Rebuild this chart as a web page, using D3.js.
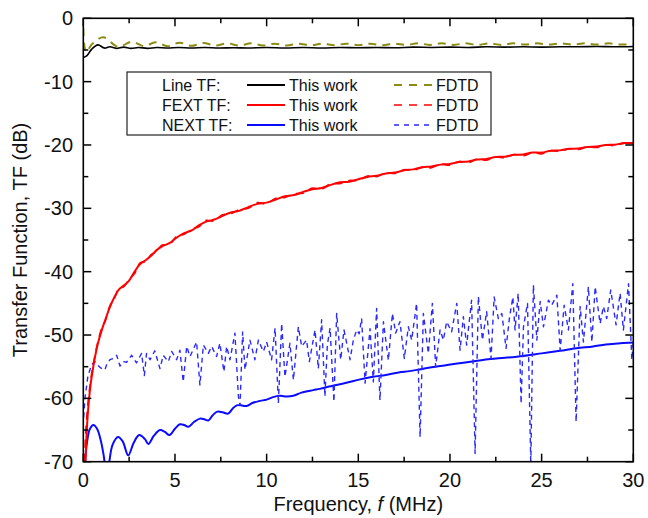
<!DOCTYPE html>
<html>
<head>
<meta charset="utf-8">
<script src="https://cdn.jsdelivr.net/npm/d3@7"></script>
<style>
  html, body { margin: 0; padding: 0; background: #fff; }
  svg { display: block; font-family: "Liberation Sans", Arial, sans-serif; }
</style>
</head>
<body>
<svg id="chart" width="648" height="518"></svg>
<script>
// Transfer functions of the line, far-end (FEXT) and near-end (NEXT) crosstalk,
// each as [frequency in MHz, TF in dB].

const lineWork = [[0,-6.2],[0.2,-5.9],[0.45,-4.9],[0.8,-4.2],[1.15,-4.7],[1.45,-4.5],[1.8,-4.75],[2.2,-4.55],[2.6,-4.75],[3.0,-4.6],[3.5,-4.75],[4.0,-4.6],[4.6,-4.7],[5.2,-4.6],[5.9,-4.7],[6.6,-4.6],[7.4,-4.7],[8.2,-4.65],[9.0,-4.7],[10,-4.6],[11,-4.7],[12,-4.6],[13,-4.7],[14,-4.6],[15,-4.65],[16,-4.6],[17,-4.65],[18,-4.55],[19,-4.6],[20,-4.55],[21,-4.6],[22,-4.5],[23,-4.55],[24,-4.5],[25,-4.55],[26,-4.5],[27,-4.5],[28,-4.45],[29,-4.5],[30,-4.45]];

const lineFdtd = [[0,-1.6],[0.15,-5.3],[0.5,-4.0],[1.1,-3.0],[1.9,-4.5],[2.65,-3.7],[3.3,-4.4],[3.95,-3.8],[4.6,-4.4],[5.25,-3.85],[5.9,-4.35],[6.55,-3.9],[7.2,-4.3],[7.85,-3.95],[8.5,-4.3],[9.15,-3.95],[9.8,-4.3],[10.45,-4.0],[11.1,-4.3],[11.75,-4.0],[12.4,-4.25],[13.05,-4.0],[13.7,-4.25],[14.35,-4.0],[15.0,-4.25],[15.65,-4.0],[16.3,-4.25],[16.95,-4.0],[17.6,-4.2],[18.25,-3.95],[18.9,-4.2],[19.55,-3.95],[20.2,-4.2],[20.85,-3.95],[21.5,-4.2],[22.15,-3.95],[22.8,-4.2],[23.45,-3.95],[24.1,-4.15],[24.75,-3.95],[25.4,-4.15],[26.05,-3.95],[26.7,-4.15],[27.35,-3.95],[28.0,-4.15],[28.65,-3.95],[29.3,-4.15],[30,-4.05]];

const fextWork = [[0.12,-70],[0.2,-64.5],[0.3,-60.5],[0.4,-57.8],[0.5,-55.8],[0.65,-53.3],[0.8,-51.3],[1.0,-49.3],[1.2,-47.6],[1.45,-45.6],[1.7,-44.0],[1.95,-42.8],[2.2,-42.2],[2.5,-41.4],[2.8,-40.0],[3.1,-38.8],[3.4,-38.2],[3.7,-37.5],[4.0,-36.6],[4.3,-36.0],[4.7,-35.5],[5.1,-34.6],[5.5,-33.9],[5.9,-33.5],[6.3,-32.7],[6.7,-32.1],[7.1,-31.8],[7.6,-31.2],[8.0,-30.7],[8.5,-30.4],[9.0,-29.8],[9.5,-29.3],[10.0,-29.1],[10.5,-28.6],[11.0,-28.1],[11.5,-27.9],[12.0,-27.4],[12.5,-27.0],[13.0,-26.8],[13.5,-26.3],[14.0,-25.9],[14.5,-25.8],[15.0,-25.4],[15.5,-25.05],[16.0,-24.85],[16.5,-24.5],[17.0,-24.35],[17.5,-24.0],[18.0,-23.85],[18.5,-23.5],[19.0,-23.4],[19.5,-23.1],[20.0,-23.0],[20.5,-22.7],[21.0,-22.6],[21.5,-22.3],[22.0,-22.2],[22.5,-21.9],[23.0,-21.85],[23.5,-21.55],[24.0,-21.5],[24.5,-21.2],[25.0,-21.2],[25.5,-20.9],[26.0,-20.85],[26.5,-20.6],[27.0,-20.55],[27.5,-20.3],[28.0,-20.25],[28.5,-20.0],[29.0,-19.95],[29.5,-19.7],[30.0,-19.7]];

const fextFdtd = [[0.07,-70],[0.12,-66],[0.2,-62.5],[0.3,-59.5],[0.4,-57.2],[0.5,-55.3],[0.65,-53.0],[0.8,-51.0],[1.0,-49.0],[1.2,-47.8],[1.45,-45.4],[1.7,-44.2],[1.95,-42.6],[2.2,-42.4],[2.5,-41.2],[2.8,-40.3],[3.1,-38.6],[3.4,-38.4],[3.7,-37.3],[4.0,-36.8],[4.3,-35.8],[4.7,-35.7],[5.1,-34.4],[5.5,-34.1],[5.9,-33.3],[6.3,-32.9],[6.7,-31.9],[7.1,-32.0],[7.6,-31.0],[8.0,-30.9],[8.5,-30.2],[9.0,-30.0],[9.5,-29.1],[10.0,-29.3],[10.5,-28.4],[11.0,-28.3],[11.5,-27.7],[12.0,-27.6],[12.5,-26.8],[13.0,-27.0],[13.5,-26.1],[14.0,-26.1],[14.5,-25.6],[15.0,-25.6],[15.5,-24.9],[16.0,-25.0],[16.5,-24.4],[17.0,-24.5],[17.5,-23.9],[18.0,-24.0],[18.5,-23.5],[19.0,-23.6],[19.5,-23.0],[20.0,-23.2],[20.5,-22.6],[21.0,-22.8],[21.5,-22.2],[22.0,-22.4],[22.5,-21.9],[23.0,-22.0],[23.5,-21.5],[24.0,-21.7],[24.5,-21.2],[25.0,-21.4],[25.5,-20.9],[26.0,-21.0],[26.5,-20.6],[27.0,-20.7],[27.5,-20.3],[28.0,-20.4],[28.5,-20.0],[29.0,-20.1],[29.5,-19.7],[30.0,-19.8]];

const nextWork = [[0.1,-70],[0.2,-67],[0.35,-64.9],[0.55,-64.2],[0.75,-64.8],[0.95,-66.6],[1.1,-68.8],[1.3,-72.5],[1.42,-70],[1.6,-67.3],[1.9,-66.1],[2.15,-66.8],[2.45,-69],[2.75,-67],[3.05,-65.8],[3.35,-66.4],[3.55,-67.2],[3.85,-65.9],[4.18,-65.0],[4.45,-65.3],[4.7,-65.8],[5.0,-64.8],[5.27,-64.1],[5.5,-64.2],[5.73,-64.5],[6.05,-63.7],[6.36,-63.2],[6.6,-63.3],[6.82,-63.5],[7.05,-62.7],[7.31,-62.1],[7.6,-62.2],[7.91,-62.4],[8.15,-61.6],[8.37,-61.1],[8.6,-61.1],[8.9,-61.2],[9.25,-60.7],[9.64,-60.4],[10.0,-60.2],[10.35,-59.8],[10.73,-59.6],[11.1,-59.7],[11.45,-59.6],[11.9,-59.1],[12.55,-58.7],[12.9,-58.5],[13.3,-58.2],[13.8,-57.9],[14.4,-57.5],[15.1,-57.0],[15.8,-56.6],[16.5,-56.3],[17.2,-55.9],[17.8,-55.7],[18.4,-55.4],[19.0,-55.1],[19.7,-54.8],[20.4,-54.5],[21.4,-54.1],[22.2,-53.8],[23.0,-53.6],[24.0,-53.3],[25.0,-52.9],[26.0,-52.5],[26.9,-52.1],[27.8,-51.8],[28.5,-51.5],[29.3,-51.3],[30,-51.2]];

const nextFdtd = [[0.02,-63],[0.09,-60],[0.25,-56.5],[0.45,-54.7],[0.64,-54.2],[0.8,-54.8],[0.95,-55.2],[1.18,-55.5],[1.27,-54.7],[1.45,-53.9],[1.73,-53.6],[1.82,-53.2],[2.0,-54.9],[2.18,-54.2],[2.36,-54.3],[2.64,-53.2],[2.9,-54.4],[3.18,-52.9],[3.33,-56.4],[3.45,-52.9],[3.64,-53.9],[3.9,-52.5],[4.18,-55.3],[4.36,-53.2],[4.64,-54.2],[4.82,-52.6],[5.09,-53.9],[5.27,-52.4],[5.45,-57.4],[5.64,-51.8],[5.82,-53.4],[6.18,-51.1],[6.36,-57.9],[6.55,-51.6],[6.82,-52.9],[7.0,-51.8],[7.27,-53.4],[7.45,-51.3],[7.67,-55.8],[7.82,-51.8],[8.0,-53.9],[8.27,-49.7],[8.46,-59.7],[8.55,-61.1],[8.69,-49.5],[8.82,-55.5],[9.09,-50.8],[9.36,-53.9],[9.55,-50.8],[9.82,-52.6],[10.0,-51.1],[10.27,-53.9],[10.46,-48.9],[10.64,-60.8],[10.82,-48.2],[11.0,-56.6],[11.27,-51.3],[11.46,-57.1],[11.73,-48.7],[11.91,-51.8],[12.18,-50.8],[12.33,-54.2],[12.64,-49.2],[12.82,-55.3],[13.0,-47.6],[13.18,-59.7],[13.31,-51.6],[13.46,-48.9],[13.67,-60.5],[13.82,-46.6],[14.04,-53.9],[14.22,-49.2],[14.55,-53.9],[14.73,-50.8],[14.91,-49.2],[15.05,-49.8],[15.18,-47.4],[15.37,-57.6],[15.64,-49.0],[15.82,-57.4],[16.0,-45.8],[16.18,-60.3],[16.37,-47.9],[16.64,-54.0],[16.86,-46.6],[17.04,-49.7],[17.27,-47.9],[17.51,-53.7],[17.73,-48.7],[17.91,-50.8],[18.18,-45.0],[18.37,-66.1],[18.55,-46.6],[18.82,-52.9],[19.04,-45.0],[19.22,-55.0],[19.46,-49.2],[19.64,-50.8],[19.82,-47.9],[20.09,-49.5],[20.37,-45.0],[20.55,-52.4],[20.73,-47.1],[20.91,-51.6],[21.18,-44.5],[21.37,-68.7],[21.55,-43.9],[21.77,-50.8],[22.0,-46.3],[22.24,-53.7],[22.41,-44.0],[22.64,-47.4],[22.83,-46.6],[23.06,-52.1],[23.24,-47.4],[23.43,-44.0],[23.55,-49.2],[23.72,-43.4],[23.88,-60.8],[24.01,-48.7],[24.23,-45.0],[24.41,-70.5],[24.55,-42.1],[24.74,-50.8],[24.92,-44.7],[25.1,-48.7],[25.37,-44.5],[25.55,-45.3],[25.83,-43.7],[26.01,-52.4],[26.23,-45.3],[26.46,-49.2],[26.7,-41.9],[26.88,-63.7],[27.1,-45.5],[27.28,-51.1],[27.55,-42.4],[27.74,-51.1],[27.92,-42.4],[28.19,-48.2],[28.37,-45.5],[28.55,-47.4],[28.77,-42.9],[29.06,-48.4],[29.28,-43.4],[29.46,-49.2],[29.74,-41.9],[29.92,-53.9],[30,-51]];

const xTicks = [0, 5, 10, 15, 20, 25, 30];
const yTicks = [0, -10, -20, -30, -40, -50, -60, -70];

const legendRows = [
  { label: "Line TF:", work: "This work", fdtd: "FDTD", key: "line" },
  { label: "FEXT TF:", work: "This work", fdtd: "FDTD", key: "fext" },
  { label: "NEXT TF:", work: "This work", fdtd: "FDTD", key: "next" }
];

const styles = {
  line: { color: "#000000", fdtdColor: "#8c8c14", dash: "8,6", fdtdWidth: 2 },
  fext: { color: "#ff0000", fdtdColor: "#ff0000", dash: "8,6", fdtdWidth: 1.6 },
  next: { color: "#0a0aff", fdtdColor: "#2a2aff", dash: "5,4", fdtdWidth: 1.4 }
};

const svg = d3.select("#chart");
const margin = { left: 83.3, right: 14.7, top: 18.3, bottom: 56.3 };
const W = 648, H = 518;
const x = d3.scaleLinear().domain([0, 30]).range([margin.left, W - margin.right]);
const y = d3.scaleLinear().domain([-70, 0]).range([H - margin.bottom, margin.top]);

svg.append("defs").append("clipPath").attr("id", "plotClip")
  .append("rect")
  .attr("x", x(0)).attr("y", y(0))
  .attr("width", x(30) - x(0)).attr("height", y(-70) - y(0));

const smooth = d3.line().x(d => x(d[0])).y(d => y(d[1])).curve(d3.curveCatmullRom.alpha(0.5));
const jagged = d3.line().x(d => x(d[0])).y(d => y(d[1]));

const plot = svg.append("g").attr("clip-path", "url(#plotClip)");

function drawSeries(data, gen, color, width, dash) {
  plot.append("path")
    .datum(data)
    .attr("d", gen)
    .attr("fill", "none")
    .attr("stroke", color)
    .attr("stroke-width", width)
    .attr("stroke-dasharray", dash || null)
    .attr("stroke-linejoin", "round");
}

drawSeries(nextWork, smooth, styles.next.color, 2, null);
drawSeries(nextFdtd, jagged, styles.next.fdtdColor, styles.next.fdtdWidth, styles.next.dash);
drawSeries(fextWork, smooth, styles.fext.color, 2, null);
drawSeries(fextFdtd, smooth, styles.fext.fdtdColor, styles.fext.fdtdWidth, styles.fext.dash);
drawSeries(lineWork, smooth, styles.line.color, 1.6, null);
drawSeries(lineFdtd, smooth, styles.line.fdtdColor, styles.line.fdtdWidth, styles.line.dash);

// Axes: ticks point inward on all four sides, with minor ticks halfway.
const xMinor = d3.range(0, 30.01, 2.5);
const yMinor = d3.range(-70, 0.01, 5);
const axisG = svg.append("g").attr("stroke", "#000").attr("stroke-width", 1.5);

function tickLen(isMajor) { return isMajor ? 8 : 5; }

xMinor.forEach(v => {
  const major = xTicks.includes(v);
  const L = tickLen(major);
  axisG.append("line").attr("x1", x(v)).attr("x2", x(v)).attr("y1", y(-70)).attr("y2", y(-70) - L);
  axisG.append("line").attr("x1", x(v)).attr("x2", x(v)).attr("y1", y(0)).attr("y2", y(0) + L);
});
yMinor.forEach(v => {
  const major = yTicks.includes(v);
  const L = tickLen(major);
  axisG.append("line").attr("x1", x(0)).attr("x2", x(0) + L).attr("y1", y(v)).attr("y2", y(v));
  axisG.append("line").attr("x1", x(30)).attr("x2", x(30) - L).attr("y1", y(v)).attr("y2", y(v));
});

svg.append("rect")
  .attr("x", x(0)).attr("y", y(0))
  .attr("width", x(30) - x(0)).attr("height", y(-70) - y(0))
  .attr("fill", "none").attr("stroke", "#000").attr("stroke-width", 1.6);

// Tick labels
svg.append("g").selectAll("text").data(xTicks).join("text")
  .attr("x", d => x(d)).attr("y", 487)
  .attr("text-anchor", "middle")
  .attr("font-size", 20).attr("fill", "#111")
  .text(d => d);

svg.append("g").selectAll("text").data(yTicks).join("text")
  .attr("x", 73).attr("y", d => y(d) + 7)
  .attr("text-anchor", "end")
  .attr("font-size", 20).attr("fill", "#111")
  .text(d => d);

// Axis titles
const xTitle = svg.append("text")
  .attr("x", (x(0) + x(30)) / 2).attr("y", 511)
  .attr("text-anchor", "middle").attr("font-size", 20).attr("fill", "#111");
xTitle.append("tspan").text("Frequency, ");
xTitle.append("tspan").attr("font-style", "italic").text("f");
xTitle.append("tspan").text(" (MHz)");

svg.append("text")
  .attr("transform", `translate(27, ${(y(0) + y(-70)) / 2}) rotate(-90)`)
  .attr("text-anchor", "middle").attr("font-size", 20).attr("fill", "#111")
  .text("Transfer Function, TF (dB)");

// Legend
const lg = svg.append("g");
lg.append("rect")
  .attr("x", 127).attr("y", 72).attr("width", 364).attr("height", 63)
  .attr("fill", "#fff").attr("stroke", "#222").attr("stroke-width", 1.2);

legendRows.forEach((r, i) => {
  const cy = 85 + i * 20;
  const st = styles[r.key];
  lg.append("text").attr("x", 162).attr("y", cy + 6).attr("font-size", 16).attr("fill", "#111").text(r.label);
  lg.append("line").attr("x1", 247).attr("x2", 285).attr("y1", cy).attr("y2", cy)
    .attr("stroke", st.color).attr("stroke-width", 2);
  lg.append("text").attr("x", 289).attr("y", cy + 6).attr("font-size", 16).attr("fill", "#111").text(r.work);
  lg.append("line").attr("x1", 394).attr("x2", 433).attr("y1", cy).attr("y2", cy)
    .attr("stroke", st.fdtdColor).attr("stroke-width", st.fdtdWidth)
    .attr("stroke-dasharray", r.key === "next" ? "5,5" : "8,7");
  lg.append("text").attr("x", 436).attr("y", cy + 6).attr("font-size", 16).attr("fill", "#111").text(r.fdtd);
});
</script>
</body>
</html>
